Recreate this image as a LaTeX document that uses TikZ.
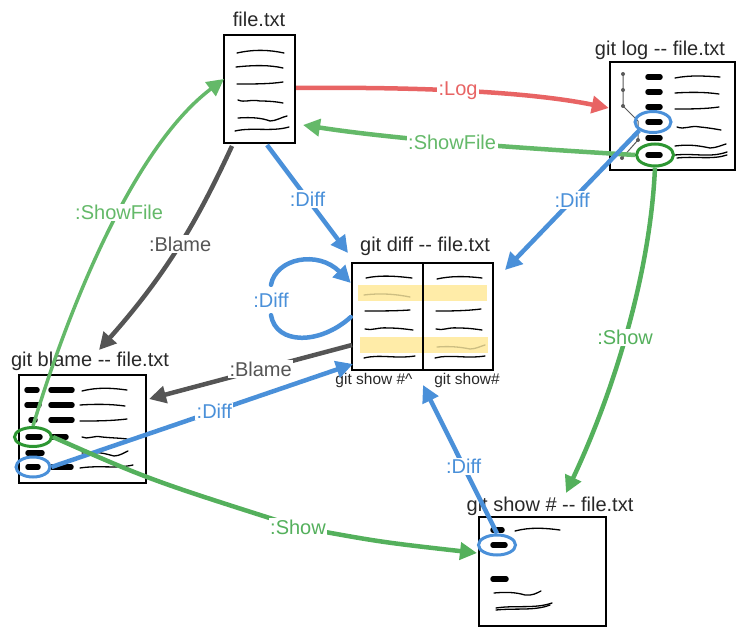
\documentclass[tikz,border=0pt]{standalone}
\usepackage{fontspec}
\setmainfont{Liberation Sans}
\usetikzlibrary{arrows.meta,shapes.geometric}
\definecolor{cred}{RGB}{232,100,100}
\definecolor{cgreen}{RGB}{84,176,92}
\definecolor{cgreenL}{RGB}{100,185,105}
\definecolor{cgreenD}{RGB}{45,150,50}
\definecolor{cblue}{RGB}{74,144,217}
\definecolor{cgray}{RGB}{85,85,85}
\definecolor{ctext}{RGB}{40,40,40}
\definecolor{chl}{RGB}{255,236,168}
\definecolor{cfaint}{RGB}{205,190,130}
\begin{document}
\begin{tikzpicture}[x=1pt,y=-1pt,
  box/.style={draw=black,line width=2.4pt,minimum width=#1,inner sep=0pt},
  title/.style={text=ctext,font=\fontsize{20}{22}\selectfont,inner sep=0pt},
  sub/.style={text=ctext,font=\fontsize{15.5}{18}\selectfont,inner sep=0pt},
  lbl/.style={fill=white,inner sep=1.5pt,font=\fontsize{20}{22}\selectfont},
  conn/.style={line width=4.5pt,-{Triangle[length=17pt,width=17pt]}},
  scrib/.style={line width=1.3pt,line cap=round},
  blob/.style={line width=5.5pt,line cap=round},
  ring/.style={line width=3pt,ellipse,inner sep=0pt}
]
\useasboundingbox (0,0) rectangle (745,634);

% ---------- boxes ----------
\node[box=71pt,minimum height=108pt] (file) at (259.5,89) {};
\node[box=125pt,minimum height=108pt] (log) at (672.5,116) {};
\node[box=141pt,minimum height=107pt] (diff) at (422.5,316.5) {};
\node[box=127pt,minimum height=108pt] (blame) at (82.5,429) {};
\node[box=127pt,minimum height=109pt] (show) at (542.5,571.5) {};

% ---------- titles ----------
\node[title] (tfile) at (259,19) {file.txt};
\node[title] (tlog) at (660,50) {git log -{}- file.txt};
\node[title] (tdiff) at (425,246) {git diff -{}- file.txt};
\node[title] (tblame) at (90,361) {git blame -{}- file.txt};
\node[title] (tshow) at (550,506) {git show \# -{}- file.txt};
\node[sub] (sa) at (374,380) {git show \#\^{}};
\node[sub] (sb) at (467,380) {git show\#};

% ---------- file.txt content ----------
\draw[scrib] (237,53) .. controls (255,49) and (270,50) .. (284,53);
\draw[scrib] (236,67) .. controls (255,65) and (270,65) .. (283,68);
\draw[scrib] (237,84) .. controls (255,84) and (270,84) .. (283,82);
\draw[scrib] (238,100) .. controls (245,103) and (250,99) .. (260,101) .. controls (270,101) and (278,102) .. (283,103);
\draw[scrib] (238,118) .. controls (252,117) and (262,118) .. (270,121) .. controls (276,121) and (282,117) .. (287,116);
\draw[scrib] (235,131) .. controls (252,127) and (272,132) .. (289,127);

% ---------- git log content ----------
\draw[gray!70!black,line width=1pt] (623,74) -- (623,106) -- (638,121) -- (638,140) -- (622,158);
\foreach \yy in {74,90,106} \fill[gray!70!black] (623,\yy) circle (2pt);
\fill[gray!70!black] (638,140) circle (2pt);
\fill[gray!70!black] (622,158) circle (2pt);
\foreach \yy in {77,92,107,122,138,155} \draw[blob] (648,\yy) -- (660,\yy);
\draw[scrib] (675,78) .. controls (690,75) and (705,76) .. (720,77);
\draw[scrib] (675,93) .. controls (690,92) and (705,92) .. (719,94);
\draw[scrib] (675,109) .. controls (690,109) and (705,109) .. (719,107);
\draw[scrib] (677,127) .. controls (685,130) and (690,125) .. (700,127) .. controls (710,128) and (715,129) .. (721,130);
\draw[scrib] (675,146) .. controls (690,144) and (700,146) .. (710,148) .. controls (716,148) and (722,145) .. (726,144);
\draw[scrib] (675,155) .. controls (695,153) and (710,158) .. (727,152);
\draw[scrib] (677,158) .. controls (695,156) and (712,160) .. (727,155);

% ---------- git diff content ----------
\fill[chl] (358,285) rectangle (487,301);
\fill[chl] (360,337) rectangle (488,353);
\draw[line width=2.4pt] (423,263) -- (423,370);
\draw[scrib] (366,278) .. controls (380,275) and (395,276) .. (412,278);
\draw[scrib] (437,279) .. controls (450,276) and (465,276) .. (482,278);
\draw[scrib,cfaint] (364,295) .. controls (380,293) and (395,294) .. (410,297);
\draw[scrib] (365,311) .. controls (380,311) and (395,311) .. (410,310);
\draw[scrib] (436,311) .. controls (450,311) and (465,311) .. (481,309);
\draw[scrib] (365,329) .. controls (372,331) and (378,327) .. (388,328) .. controls (398,328) and (405,329) .. (413,330);
\draw[scrib] (436,329) .. controls (443,331) and (448,327) .. (458,328) .. controls (468,328) and (475,329) .. (482,330);
\draw[scrib,cfaint] (437,347) .. controls (450,346) and (460,347) .. (470,349) .. controls (476,349) and (481,346) .. (485,345);
\draw[scrib] (364,358) .. controls (380,354) and (395,359) .. (415,356);
\draw[scrib] (435,358) .. controls (450,354) and (465,359) .. (485,356);

% ---------- git blame content ----------
\foreach \yy/\a/\b in {390/27/37,405/27/39,420/31/35,437/28/40,453/28/42,467/28/38} \draw[blob] (\a,\yy) -- (\b,\yy);
\foreach \yy/\a/\b in {390/51/72,405/51/72,420/51/72,437/53/66,467/52/71} \draw[blob] (\a,\yy) -- (\b,\yy);
\draw[scrib] (82,391) .. controls (98,387) and (112,388) .. (127,390);
\draw[scrib] (80,405) .. controls (95,404) and (110,404) .. (125,406);
\draw[scrib] (80,421) .. controls (95,421) and (110,421) .. (127,419);
\draw[scrib] (82,437) .. controls (88,440) and (93,435) .. (102,437) .. controls (112,438) and (120,438) .. (127,439);
\draw[scrib] (82,453) .. controls (98,451) and (106,454) .. (114,456) .. controls (120,456) and (125,452) .. (128,451);
\draw[scrib] (80,468) .. controls (100,465) and (115,469) .. (133,465);

% ---------- git show content ----------
\draw[blob] (493,530) -- (502,530);
\draw[blob] (493,545) -- (505,545);
\draw[blob] (493,579) -- (506,579);
\draw[scrib] (515,531) .. controls (530,527) and (545,528) .. (560,530);
\draw[scrib] (494,593) .. controls (505,592) and (515,592) .. (525,595) .. controls (532,596) and (537,593) .. (541,591);
\draw[scrib] (496,608) .. controls (515,605) and (535,609) .. (552,603);
\draw[scrib] (496,610) .. controls (515,608) and (535,611) .. (550,605);

% ---------- selection rings ----------
\node[ring,draw=cblue,minimum width=36pt,minimum height=21pt] (logsel) at (653,122) {};
\node[ring,draw=cgreenD,minimum width=37pt,minimum height=22pt] (loggreen) at (655,155) {};
\node[ring,draw=cgreenD,minimum width=37pt,minimum height=19pt] (blgreen) at (33,437) {};
\node[ring,draw=cblue,minimum width=34pt,minimum height=20pt] (blblue) at (33,467) {};
\node[ring,draw=cblue,minimum width=37pt,minimum height=20pt] (showsel) at (497,545) {};

% ---------- connectors ----------
\draw[conn,cred] (file.east |- 0,88) .. controls (400,87) and (520,90) .. (log.west |- 0,108)
  node[lbl,pos=0.5,text=cred] (llog) {:Log};
\draw[conn,cgreenL] (loggreen.west) .. controls (520,148) and (400,140) .. (303,125)
  node[lbl,pos=0.53,text=cgreenL] (lsf1) {:ShowFile};
\draw[conn,cblue] (logsel.south west) -- (505,270)
  node[lbl,pos=0.5,text=cblue] (ld1) {:Diff};
\draw[conn,cgreen] (loggreen.south) .. controls (650,280) and (610,400) .. (566,493)
  node[lbl,pos=0.5,text=cgreen] (ls1) {:Show};
\draw[conn,cblue] (267,145) -- (348,253)
  node[lbl,pos=0.5,text=cblue] (ld2) {:Diff};
\draw[conn,cgray] (232,146) .. controls (200,215) and (170,270) .. (99,350)
  node[lbl,pos=0.5,text=cgray] (lb1) {:Blame};
% self loop on git diff
\node[text=cblue,font=\fontsize{20}{22}\selectfont,inner sep=0pt,minimum height=30pt] (ld3) at (271,300) {:Diff};
\draw[cblue,line width=4.5pt,line cap=round] (diff.west |- 0,317) .. controls (320,345) and (276,345) .. (ld3.south);
\draw[conn,cblue,line cap=round] (ld3.north) .. controls (276,258) and (318,250) .. (diff.west |- 0,283);
\draw[conn,cgray] (352,345) -- (149,399)
  node[lbl,pos=0.45,text=cgray] (lb2) {:Blame};
\draw[conn,cblue] (blblue.east) -- (353,364)
  node[lbl,pos=0.54,text=cblue] (ld4) {:Diff};
\draw[conn,cgreen] (blgreen.east) .. controls (150,480) .. (298,527)
  node[lbl,text=cgreen] (ls2) {:Show}
  .. controls (380,542) .. (477,553);
\draw[conn,cblue] (showsel.north) -- (423,385)
  node[lbl,pos=0.45,text=cblue] (ld5) {:Diff};
\draw[cgreenL,line width=3.5pt,-{Triangle[length=17pt,width=17pt]}] (blgreen.north) .. controls (65,320) and (130,150) .. (224,79)
  node[lbl,pos=0.57,text=cgreenL] (lsf2) {:ShowFile};
\end{tikzpicture}
\end{document}
